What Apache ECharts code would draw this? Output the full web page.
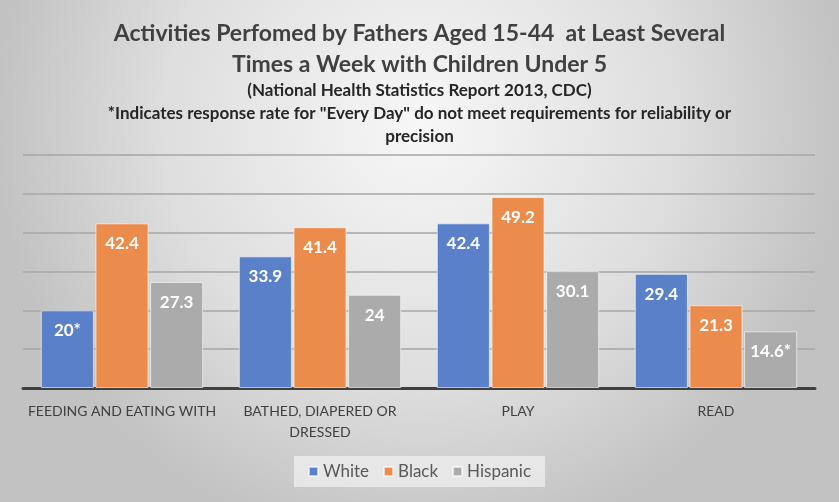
<!DOCTYPE html>
<html><head><meta charset="utf-8">
<script src="https://cdn.jsdelivr.net/npm/echarts@6/dist/echarts.min.js"></script>
<style>html,body{margin:0;padding:0;background:#b8b8b8}#c{width:839px;height:502px}</style>
</head><body><div id="c"></div>
<script>
const titleLines = ['Activities Perfomed by Fathers Aged 15-44  at Least Several', 'Times a Week with Children Under 5'];
const subtitleLines = ['(National Health Statistics Report 2013, CDC)', '*Indicates response rate for "Every Day" do not meet requirements for reliability or', 'precision'];
const categories = ['FEEDING AND EATING WITH', 'BATHED, DIAPERED OR\nDRESSED', 'PLAY', 'READ'];
const seriesNames = ['White', 'Black', 'Hispanic'];
const whiteValues = [20, 33.9, 42.4, 29.4];
const blackValues = [42.4, 41.4, 49.2, 21.3];
const hispanicValues = [27.3, 24, 30.1, 14.6];
const whiteNotes = ['*', '', '', ''];
const blackNotes = ['', '', '', ''];
const hispanicNotes = ['', '', '', '*'];

const FONT = "Lato, 'Open Sans', sans-serif";
const colors = ['#5a80c9', '#eb8b4c', '#ababab'];
const values = [whiteValues, blackValues, hispanicValues];
const notes = [whiteNotes, blackNotes, hispanicNotes];

const chart = echarts.init(document.getElementById('c'));
chart.setOption({
  backgroundColor: {
    type: 'radial', x: 0.5, y: 0.25, r: 0.85,
    colorStops: [{offset: 0, color: '#f7f7f7'}, {offset: 0.6, color: '#dedede'}, {offset: 1, color: '#c2c2c2'}]
  },
  animation: false,
  title: [
    { text: titleLines.join('\n'), left: 'center', top: 13,
      textStyle: { fontFamily: FONT, fontSize: 23, fontWeight: 'bold', color: '#404040', lineHeight: 31 } },
    { text: subtitleLines.join('\n'), left: 'center', top: 74,
      textStyle: { fontFamily: FONT, fontSize: 17, fontWeight: 'bold', color: '#262626', lineHeight: 23 } }
  ],
  grid: { left: 23, right: 24, top: 155, bottom: 114 },
  legend: {
    data: seriesNames, bottom: 15, left: 'center',
    backgroundColor: 'rgba(235,235,235,0.85)', padding: [7, 14],
    itemWidth: 9, itemHeight: 9, itemGap: 14,
    icon: 'rect',
    textStyle: { fontFamily: FONT, fontSize: 17, color: '#595959' }
  },
  xAxis: {
    type: 'category', data: categories,
    axisLine: { lineStyle: { color: '#404040', width: 3 } },
    axisTick: { show: false },
    axisLabel: { interval: 0, fontFamily: FONT, fontSize: 14, color: '#404040', margin: 13, lineHeight: 21 }
  },
  yAxis: {
    type: 'value', min: 0, max: 60, interval: 10,
    axisLabel: { show: false }, axisLine: { show: false }, axisTick: { show: false },
    splitLine: { lineStyle: { color: '#a6a6a6', width: 1.5 } }
  },
  series: seriesNames.map((name, i) => ({
    name, type: 'bar', data: values[i],
    barGap: '3%', barCategoryGap: '18%',
    itemStyle: { color: colors[i], borderColor: 'rgba(255,255,255,0.6)', borderWidth: 1 },
    label: {
      show: true, position: 'insideTop', distance: 12,
      fontFamily: FONT, fontSize: 17, fontWeight: 'bold', color: '#ffffff',
      formatter: p => p.value + notes[i][p.dataIndex]
    }
  }))
});
</script></body></html>
